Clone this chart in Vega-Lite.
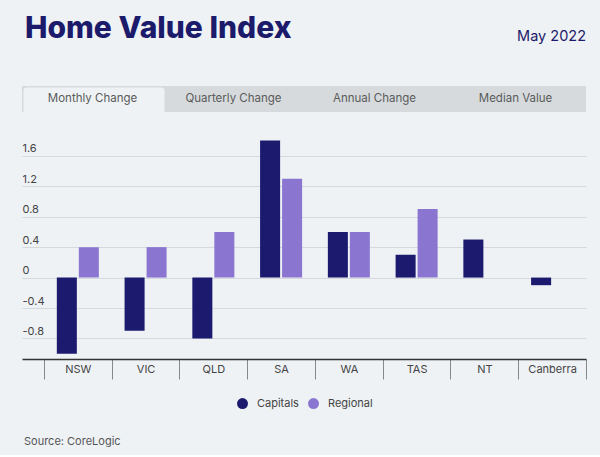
{
  "$schema": "https://vega.github.io/schema/vega-lite/v6.json",
  "background": "#eef2f5",
  "padding": {"left": 22, "top": 14, "right": 14, "bottom": 8},
  "config": {
    "view": {"stroke": null},
    "font": "Inter",
    "legend": {"layout": {"bottom": {"anchor": "middle"}}}
  },
  "spacing": 21,
  "resolve": {"legend": {"color": "independent"}, "scale": {"color": "independent"}},
  "vconcat": [
    {
      "hconcat": [
        {
          "width": 282, "height": 1,
          "data": {"values": []},
          "mark": "point",
          "encoding": {},
          "title": {"text": "Home Value Index", "anchor": "start", "fontSize": 30, "fontWeight": 800, "color": "#1c1a6a", "offset": 20, "dx": 3}
        },
        {
          "width": 282, "height": 1,
          "data": {"values": []},
          "mark": "point",
          "encoding": {},
          "title": {"text": "May 2022", "anchor": "end", "fontSize": 14.5, "fontWeight": 400, "color": "#1c1a6a", "offset": 20}
        }
      ],
      "spacing": 0
    },
    {
      "width": 564, "height": 26,
      "data": {"values": [
        {"tab": "Monthly Change", "active": true},
        {"tab": "Quarterly Change", "active": false},
        {"tab": "Annual Change", "active": false},
        {"tab": "Median Value", "active": false}
      ]},
      "layer": [
        {
          "mark": {"type": "rect", "fill": "#d6dadd"},
          "encoding": {"x": {"field": "tab", "type": "nominal", "sort": ["Monthly Change", "Quarterly Change", "Annual Change", "Median Value"], "scale": {"paddingInner": 0, "paddingOuter": 0}, "axis": null}}
        },
        {
          "transform": [{"filter": "datum.active"}],
          "mark": {"type": "rect", "fill": "#eef2f5", "cornerRadiusTopLeft": 3, "cornerRadiusTopRight": 3, "xOffset": 1.5, "yOffset": 1.5},
          "encoding": {"x": {"field": "tab", "type": "nominal", "sort": ["Monthly Change", "Quarterly Change", "Annual Change", "Median Value"], "axis": null}}
        },
        {
          "mark": {"type": "text", "fontSize": 11.5, "color": "#5a5a5a"},
          "encoding": {
            "x": {"field": "tab", "type": "nominal", "sort": ["Monthly Change", "Quarterly Change", "Annual Change", "Median Value"], "axis": null},
            "text": {"field": "tab"}
          }
        }
      ]
    },
    {
      "width": 564, "height": 226,
      "data": {"values": [
        {"region": "NSW", "series": "Capitals", "value": -1.0},
        {"region": "NSW", "series": "Regional", "value": 0.4},
        {"region": "VIC", "series": "Capitals", "value": -0.7},
        {"region": "VIC", "series": "Regional", "value": 0.4},
        {"region": "QLD", "series": "Capitals", "value": -0.8},
        {"region": "QLD", "series": "Regional", "value": 0.6},
        {"region": "SA", "series": "Capitals", "value": 1.8},
        {"region": "SA", "series": "Regional", "value": 1.3},
        {"region": "WA", "series": "Capitals", "value": 0.6},
        {"region": "WA", "series": "Regional", "value": 0.6},
        {"region": "TAS", "series": "Capitals", "value": 0.3},
        {"region": "TAS", "series": "Regional", "value": 0.9},
        {"region": "NT", "series": "Capitals", "value": 0.5},
        {"region": "Canberra", "series": "Capitals", "value": -0.1}
      ]},
      "mark": {"type": "bar"},
      "encoding": {
        "x": {
          "field": "region", "type": "nominal",
          "sort": ["NSW", "VIC", "QLD", "SA", "WA", "TAS", "NT", "Canberra"],
          "scale": {"paddingInner": 0, "paddingOuter": 0.162, "align": 1},
          "axis": {"title": null, "labelAngle": 0, "domainColor": "#333333", "domainWidth": 1.5, "tickBand": "extent", "tickSize": 20, "tickColor": "#888888", "labelPadding": -16, "labelFontSize": 11, "labelColor": "#444444", "grid": false}
        },
        "xOffset": {
          "field": "series", "type": "nominal", "sort": ["Capitals", "Regional"],
          "scale": {"paddingInner": 0.09, "paddingOuter": 0.585}
        },
        "y": {
          "field": "value", "type": "quantitative",
          "scale": {"domain": [-1.07, 1.9], "nice": false},
          "axis": {"title": null, "values": [-0.8, -0.4, 0, 0.4, 0.8, 1.2, 1.6], "labelExpr": "'' + datum.value", "domain": false, "ticks": false, "grid": true, "gridColor": "#d5d9dd", "labelAlign": "left", "labelPadding": 0, "labelBaseline": "alphabetic", "labelOffset": -4, "labelFontSize": 11, "labelColor": "#444444"}
        },
        "color": {
          "field": "series", "type": "nominal", "sort": ["Capitals", "Regional"],
          "scale": {"range": ["#1b1a6e", "#8a76d0"]},
          "legend": {"title": null, "orient": "bottom", "direction": "horizontal", "symbolType": "circle", "symbolSize": 120, "labelFontSize": 11, "labelColor": "#444444", "offset": 17, "columnPadding": 8, "labelOffset": 8}
        }
      }
    },
    {
      "width": 564, "height": 1,
      "data": {"values": []},
      "mark": "point",
      "encoding": {},
      "title": {"text": "Source: CoreLogic", "orient": "bottom", "anchor": "start", "fontSize": 11, "fontWeight": 400, "color": "#555555", "offset": 5, "dx": 2}
    }
  ]
}
